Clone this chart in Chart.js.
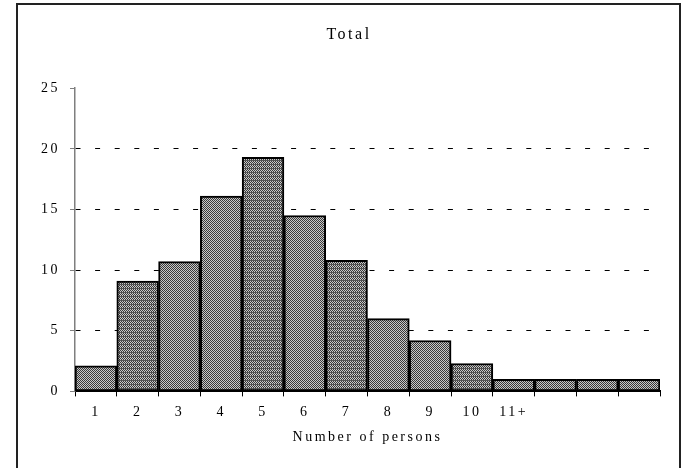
<!DOCTYPE html>
<html>
<head>
<meta charset="utf-8">
<script src="https://cdn.jsdelivr.net/npm/chart.js@4"></script>
<style>
  body { margin: 0; background: #fff; }
  canvas { display: block; }
</style>
</head>
<body>
<canvas id="totalChart" width="688" height="468"></canvas>
<script>
const categories = ['1', '2', '3', '4', '5', '6', '7', '8', '9', '10', '11+', '', '', ''];
const totals = [2.1, 9.1, 10.7, 16.1, 19.3, 14.5, 10.8, 6.0, 4.2, 2.3, 1.0, 1.0, 1.0, 1.0];
const striped = [false, true, false, false, true, false, true, false, false, true, false, false, false, false];
const yTicks = [0, 5, 10, 15, 20, 25];

// dotted grey fill, some bars also get horizontal lines like the scan
function makePattern(withLines) {
    const c = document.createElement('canvas');
    c.width = 4;
    c.height = 4;
    const p = c.getContext('2d');
    for (let y = 0; y < 4; y++) {
        for (let x = 0; x < 4; x++) {
            p.fillStyle = (x + y) % 2 === 0 ? '#383838' : '#c8c8c8';
            p.fillRect(x, y, 1, 1);
        }
    }
    if (withLines) {
        p.fillStyle = '#555';
        p.fillRect(0, 0, 4, 1);
    }
    return p.createPattern(c, 'repeat');
}

const fills = striped.map(s => makePattern(s));

const spacing = {
    id: 'spacing',
    beforeLayout(chart) { chart.ctx.letterSpacing = '2.5px'; },
    beforeDraw(chart) { chart.ctx.letterSpacing = '2.5px'; }
};

const frame = {
    id: 'frame',
    afterDraw(chart) {
        const ctx = chart.ctx;
        ctx.save();
        ctx.strokeStyle = '#222';
        ctx.lineWidth = 2;
        ctx.strokeRect(17, 4, 663, 480);
        ctx.restore();
    }
};

const ctx = document.getElementById('totalChart').getContext('2d');
new Chart(ctx, {
    type: 'bar',
    data: {
        labels: categories,
        datasets: [{
            label: 'Total',
            data: totals,
            backgroundColor: fills,
            borderColor: '#000',
            borderWidth: 2,
            borderSkipped: false,
            barPercentage: 1,
            categoryPercentage: 1
        }]
    },
    options: {
        responsive: false,
        animation: false,
        layout: { padding: { left: 38, right: 28, top: 0, bottom: 22 } },
        plugins: {
            legend: { display: false },
            tooltip: { enabled: false },
            title: {
                display: true,
                text: 'Total',
                color: '#000',
                font: { family: '"Liberation Serif", serif', size: 16, weight: 'normal' },
                padding: { top: 25, bottom: 44 }
            }
        },
        scales: {
            x: {
                grid: {
                    display: true,
                    drawOnChartArea: false,
                    drawTicks: true,
                    tickLength: 5,
                    tickColor: '#000',
                    lineWidth: 1
                },
                border: { color: '#000', width: 2 },
                ticks: {
                    color: '#000',
                    padding: 8,
                    maxRotation: 0,
                    autoSkip: false,
                    font: { family: '"Liberation Serif", serif', size: 14 }
                },
                title: {
                    display: true,
                    text: 'Number of persons',
                    color: '#000',
                    font: { family: '"Liberation Serif", serif', size: 14 },
                    padding: { top: 0, bottom: 0 }
                }
            },
            y: {
                min: 0,
                max: 25,
                afterFit(scale) { scale.width = 37; },
                afterBuildTicks(scale) { scale.ticks = yTicks.map(v => ({ value: v })); },
                grid: {
                    color: c => (c.tick && c.tick.value > 0 && c.tick.value < 25) ? '#000' : 'rgba(0,0,0,0)',
                    tickColor: '#7f7f7f',
                    tickLength: 5,
                    lineWidth: 1
                },
                border: { color: '#7f7f7f', width: 1.5, dash: [5, 14.6] },
                ticks: {
                    color: '#000',
                    padding: 10,
                    font: { family: '"Liberation Serif", serif', size: 14 }
                }
            }
        }
    },
    plugins: [spacing, frame]
});
</script>
</body>
</html>
